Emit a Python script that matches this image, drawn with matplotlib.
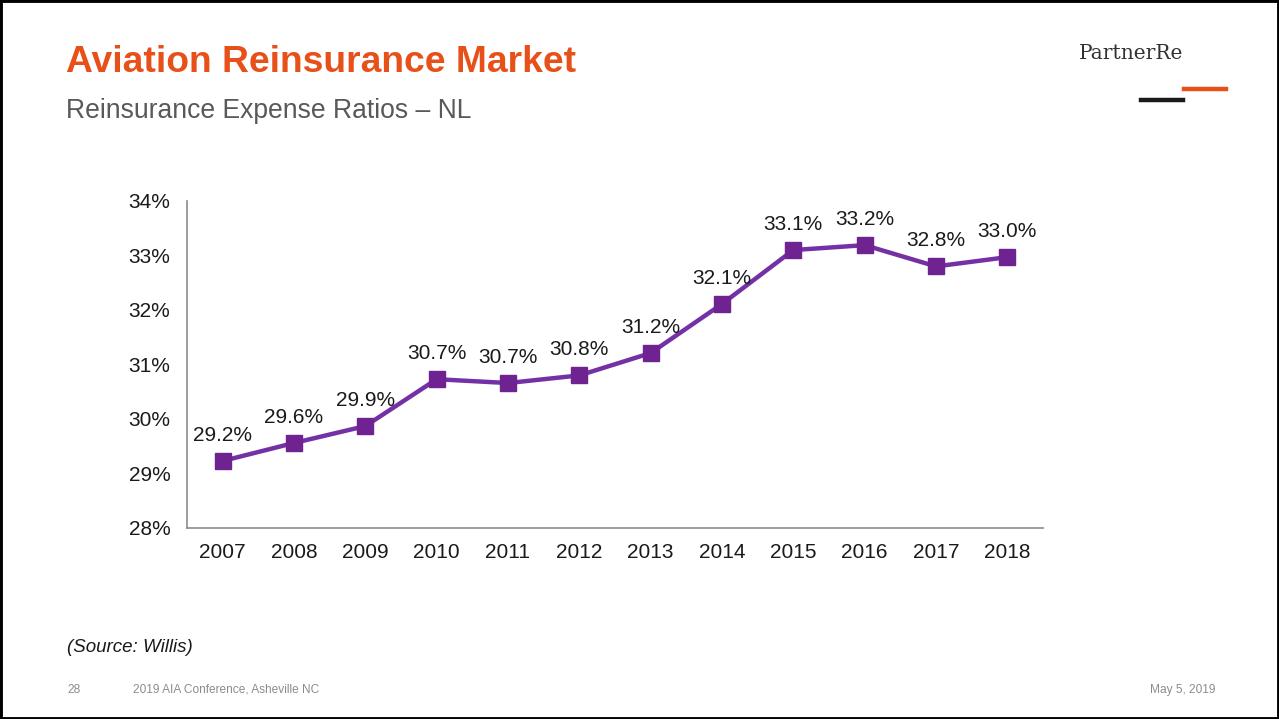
import matplotlib
matplotlib.use("Agg")
import matplotlib.pyplot as plt
from matplotlib.patches import Rectangle
from matplotlib.lines import Line2D

plt.rcParams['font.family'] = ['Liberation Sans', 'DejaVu Sans']

years = ["2007", "2008", "2009", "2010", "2011", "2012", "2013", "2014", "2015", "2016", "2017", "2018"]
ratios = [29.23, 29.56, 29.87, 30.73, 30.66, 30.80, 31.21, 32.11, 33.10, 33.19, 32.80, 32.97]
labels = ["29.2%", "29.6%", "29.9%", "30.7%", "30.7%", "30.8%", "31.2%", "32.1%", "33.1%", "33.2%", "32.8%", "33.0%"]
yticks = [28, 29, 30, 31, 32, 33, 34]

W, H = 1279, 719
fig = plt.figure(figsize=(W / 100, H / 100), dpi=100)
fig.patch.set_facecolor("white")

def fx(px):
    return px / W

def fy(py):
    return 1 - py / H

ax = fig.add_axes([fx(187), fy(528), fx(1043) - fx(187), fy(201) - fy(528)])
x = list(range(len(years)))
ax.plot(x, ratios, color="#7431A6", lw=3.2, marker="s", ms=11.5,
        markerfacecolor="#6E2391", markeredgecolor="#6E2391", zorder=3)
for xi, v, lab in zip(x, ratios, labels):
    ax.annotate(lab, (xi, v), xytext=(0, 11.5), textcoords="offset points",
                ha="center", va="bottom", fontsize=15, color="#1a1a1a")

ax.set_xlim(-0.5, len(years) - 0.5)
ax.set_ylim(28, 34)
ax.set_yticks(yticks)
ax.set_yticklabels([f"{t}%" for t in yticks])
ax.set_xticks(x)
ax.set_xticklabels(years)
ax.tick_params(axis="both", length=0, labelsize=15, colors="#1a1a1a")
ax.tick_params(axis="y", pad=12)
ax.tick_params(axis="x", pad=11)
for s in ["top", "right"]:
    ax.spines[s].set_visible(False)
for s in ["left", "bottom"]:
    ax.spines[s].set_color("#8c8c8c")
    ax.spines[s].set_linewidth(1.2)
ax.set_facecolor("none")

# Titles
fig.text(fx(66), fy(72), "Aviation Reinsurance Market", fontsize=26.8, fontweight="bold",
         color="#E8501A", ha="left", va="baseline")
fig.text(fx(66), fy(118), "Reinsurance Expense Ratios \u2013 NL", fontsize=19.1,
         color="#595959", ha="left", va="baseline")

# Logo
fig.text(fx(1183), fy(59), "PartnerRe", fontsize=14.5, family=["DejaVu Serif"],
         color="#333333", ha="right", va="baseline")
fig.add_artist(Line2D([fx(1141), fx(1183)], [fy(100), fy(100)], color="#1a1a1a", lw=3.2))
fig.add_artist(Line2D([fx(1184), fx(1226)], [fy(89), fy(89)], color="#E8501A", lw=3.2))

# Source & footer
fig.text(fx(67), fy(647), "(Source: Willis)", fontsize=13.5, style="italic",
         color="#1a1a1a", ha="left", va="center")
fig.text(fx(67), fy(690), "28", fontsize=8.6, color="#8c8c8c", ha="left", va="center")
fig.text(fx(133), fy(690), "2019 AIA Conference, Asheville NC", fontsize=8.6, color="#8c8c8c",
         ha="left", va="center")
fig.text(fx(1215), fy(690), "May 5, 2019", fontsize=8.6, color="#8c8c8c", ha="right", va="center")

# Border
fig.add_artist(Rectangle((0, 0), 1, 1, transform=fig.transFigure, fill=False,
                         edgecolor="black", lw=3.5))

fig.savefig("out.png", dpi=100)
